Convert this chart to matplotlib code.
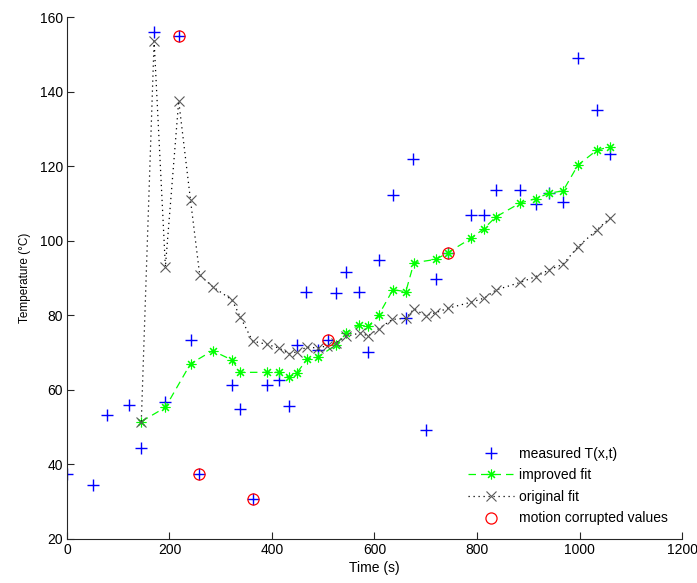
import matplotlib
matplotlib.use("Agg")
import matplotlib.pyplot as plt

plt.rcParams['font.family'] = ['Liberation Sans', 'DejaVu Sans']

# measured temperatures
t_meas = [0, 51, 79, 121, 145, 170, 192, 218, 241, 258, 322, 338, 363, 391, 413, 433,
          449, 467, 489, 510, 525, 544, 570, 588, 608, 637, 661, 676, 700, 720, 743,
          788, 813, 837, 884, 915, 940, 968, 997, 1034, 1060]
T_meas = [37.5, 34.6, 53.2, 56.0, 44.3, 155.9, 56.8, 155.0, 73.3, 37.4, 61.3, 54.9, 30.7,
          61.2, 62.6, 55.7, 71.9, 86.2, 70.8, 73.4, 85.9, 91.7, 86.2, 70.2, 94.7, 112.2,
          79.2, 121.9, 49.2, 89.7, 96.8, 106.8, 106.8, 113.5, 113.7, 109.9, 112.9, 110.5,
          148.9, 135.0, 123.3]

# improved fit
t_impr = [145, 192, 241, 284, 322, 338, 390, 413, 433, 449, 468, 489, 525, 544, 570, 588,
          608, 636, 661, 677, 720, 743, 788, 813, 837, 884, 915, 940, 968, 997, 1034, 1060]
T_impr = [51.5, 55.3, 67.0, 70.5, 68.0, 64.7, 64.7, 64.7, 63.4, 64.6, 68.2, 68.7, 72.1,
          75.3, 77.5, 77.0, 80.0, 86.9, 86.3, 94.1, 95.0, 96.8, 100.6, 103.2, 106.4, 110.1,
          111.3, 112.7, 113.4, 120.3, 124.3, 125.2]

# original fit
t_orig = [145, 170, 192, 218, 241, 259, 284, 322, 338, 362, 390, 414, 433, 449, 468, 489,
          507, 525, 545, 571, 588, 608, 635, 661, 677, 700, 719, 744, 788, 814, 837, 884,
          915, 941, 968, 997, 1034, 1060]
T_orig = [51.5, 153.6, 93.0, 137.5, 110.9, 90.8, 87.7, 84.1, 79.6, 73.1, 72.2, 71.2, 69.7,
          70.2, 71.5, 71.2, 71.8, 72.6, 74.4, 75.2, 74.5, 76.4, 78.9, 79.2, 81.7, 79.9,
          80.7, 81.9, 83.5, 84.6, 86.8, 88.8, 90.4, 92.2, 93.7, 98.4, 102.9, 106.2]

# motion corrupted values
t_bad = [218, 258, 363, 510, 743]
T_bad = [155.0, 37.4, 30.7, 73.4, 96.8]

fig = plt.figure(figsize=(6.97, 5.83), dpi=100)
ax = fig.add_axes([0.0961, 0.0755, 0.8824, 0.8953])

# matlab style asterisk: 8 arms
star = (8, 2, 0)

ax.plot(t_meas, T_meas, 'b+', ms=9, mew=1.0, ls='none', label='measured T(x,t)')
ax.plot(t_impr, T_impr, color='#00ff00', ls=(0, (6, 4)), lw=0.9, marker=star, ms=7,
        mew=0.8, label='improved fit')
ax.plot(t_orig, T_orig, color='black', ls=(0, (1, 3)), lw=0.9, marker='x', ms=7,
        mew=0.8, mec='0.35', label='original fit')
ax.plot(t_bad, T_bad, 'o', mfc='none', mec='red', ms=8, mew=0.9, ls='none',
        label='motion corrupted values')

ax.set_xlim(0, 1200)
ax.set_ylim(20, 160)
ax.set_xticks(range(0, 1201, 200))
ax.set_yticks(range(20, 161, 20))
ax.spines['top'].set_visible(False)
ax.spines['right'].set_visible(False)
for s in ['left', 'bottom']:
    ax.spines[s].set_color('0.15')
    ax.spines[s].set_linewidth(0.8)
ax.tick_params(direction='in', length=5, width=0.8, labelsize=10, color='0.15', pad=3)
ax.set_xlabel('Time (s)', fontsize=10, labelpad=3)
ax.set_ylabel('Temperature (°C)', fontsize=8.5, labelpad=6)

ax.legend(loc='lower right', bbox_to_anchor=(0.99, 0.01), frameon=False, fontsize=10,
          handlelength=3.3, handletextpad=0.35, labelspacing=0.55, borderaxespad=0.2)

fig.savefig('out.png', dpi=100)
